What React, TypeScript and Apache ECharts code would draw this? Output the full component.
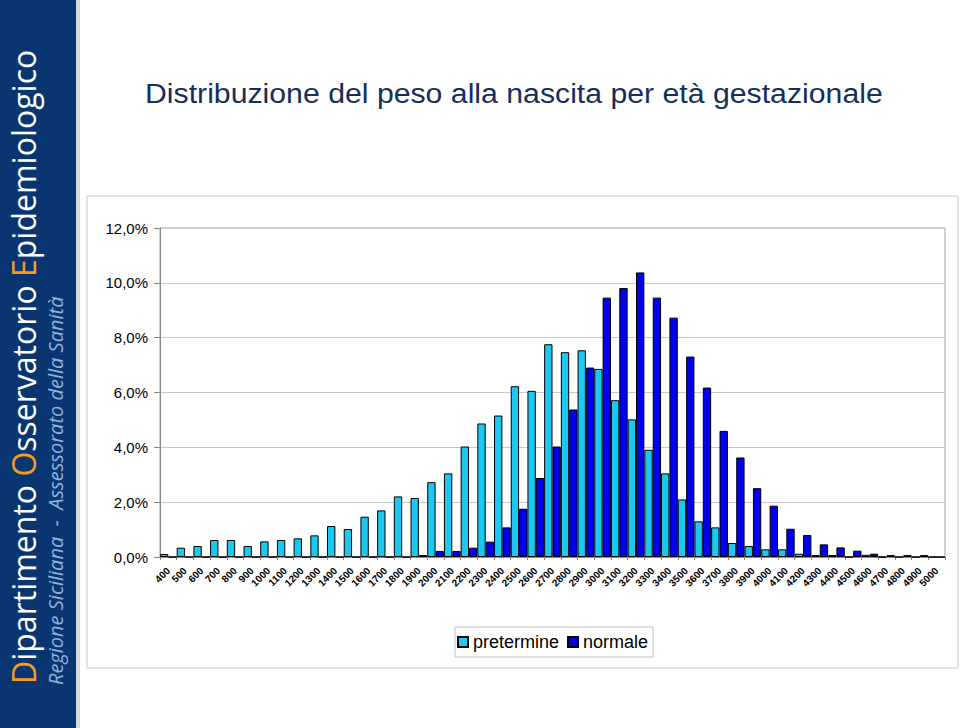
import React, { useEffect, useRef } from "react";
import * as echarts from "echarts";

const categories: string[] = [
  "400","500","600","700","800","900","1000","1100","1200","1300","1400","1500",
  "1600","1700","1800","1900","2000","2100","2200","2300","2400","2500","2600","2700",
  "2800","2900","3000","3100","3200","3300","3400","3500","3600","3700","3800","3900",
  "4000","4100","4200","4300","4400","4500","4600","4700","4800","4900","5000",
];

const pretermine: number[] = [
  0.11, 0.34, 0.40, 0.62, 0.62, 0.40, 0.57, 0.62, 0.68, 0.79, 1.13, 1.02,
  1.47, 1.70, 2.21, 2.15, 2.73, 3.05, 4.03, 4.87, 5.16, 6.23, 6.06, 7.76,
  7.47, 7.54, 6.86, 5.72, 5.02, 3.91, 3.05, 2.10, 1.30, 1.08, 0.51, 0.40,
  0.28, 0.28, 0.12, 0.07, 0.07, 0, 0.08, 0, 0, 0, 0,
];

const normale: number[] = [
  0, 0, 0, 0, 0, 0, 0, 0, 0, 0, 0, 0,
  0, 0, 0, 0.07, 0.22, 0.22, 0.34, 0.56, 1.08, 1.76, 2.88, 4.03,
  5.38, 6.91, 9.46, 9.81, 10.38, 9.46, 8.73, 7.31, 6.18, 4.60, 3.63, 2.51,
  1.87, 1.03, 0.80, 0.46, 0.35, 0.23, 0.12, 0.07, 0.07, 0.07, 0,
];

const yTicks: number[] = [0, 2, 4, 6, 8, 10, 12];

export default function App() {
  const ref = useRef<HTMLDivElement>(null);
  useEffect(() => {
    if (!ref.current) return;
    const chart = echarts.init(ref.current, undefined, { renderer: "svg" });
    chart.setOption({
      animation: false,
      backgroundColor: "#ffffff",
      graphic: [
        {
          type: "rect",
          shape: { x: 0, y: 0, width: 76, height: 728 },
          style: { fill: "#093671" },
          z: 10,
        },
        {
          type: "rect",
          shape: { x: 76, y: 0, width: 4, height: 728 },
          style: { fill: "#d9d9d9" },
          z: 10,
        },
        {
          type: "text",
          x: 23,
          y: 684,
          rotation: Math.PI / 2,
          z: 11,
          style: {
            text: "{o|D}ipartimento {o|O}sservatorio {o|E}pidemiologico",
            fill: "#ffffff",
            fontFamily: "Open Sans, Liberation Sans, sans-serif",
            fontSize: 32,
            verticalAlign: "middle",
            align: "left",
            rich: {
              o: {
                fill: "#f59a23",
                fontFamily: "Open Sans, Liberation Sans, sans-serif",
                fontSize: 32,
              },
            },
          },
        },
        {
          type: "text",
          x: 55,
          y: 685,
          rotation: Math.PI / 2,
          z: 11,
          style: {
            text: "Regione Siciliana  -  Assessorato della Sanità",
            fill: "#8fb2dd",
            fontFamily: "Open Sans, Liberation Sans, sans-serif",
            fontStyle: "italic",
            fontSize: 20,
            verticalAlign: "middle",
            align: "left",
          },
        },
        {
          type: "rect",
          shape: { x: 87, y: 196, width: 871, height: 472 },
          style: { fill: "none", stroke: "#c8c8c8", lineWidth: 1 },
          z: 0,
        },
        {
          type: "text",
          x: 145,
          y: 80,
          scaleX: 1.12,
          z: 5,
          style: {
            text: "Distribuzione del peso alla nascita per età gestazionale",
            fill: "#152f5a",
            fontFamily: "Liberation Sans, Arial, sans-serif",
            fontSize: 27,
            verticalAlign: "top",
            align: "left",
          },
        },
      ],
      legend: {
        left: 455,
        top: 627,
        itemWidth: 10,
        itemHeight: 10,
        itemGap: 8,
        padding: [6, 5, 6, 2],
        backgroundColor: "#ffffff",
        borderColor: "#bfbfbf",
        borderWidth: 1,
        borderRadius: 0,
        icon: "rect",
        textStyle: {
          fontFamily: "Liberation Sans, Arial, sans-serif",
          fontSize: 18,
          color: "#000",
        },
        data: ["pretermine", "normale"],
      },
      grid: {
        left: 160,
        right: 15,
        top: 228,
        bottom: 171,
        show: true,
        borderColor: "#a0a0a0",
        borderWidth: 1,
      },
      xAxis: {
        type: "category",
        data: categories,
        axisLine: { lineStyle: { color: "#888888" } },
        axisTick: { show: true, length: 3, lineStyle: { color: "#888888" } },
        axisLabel: {
          rotate: 45,
          interval: 0,
          fontSize: 10,
          fontWeight: "bold",
          fontFamily: "Liberation Sans, Arial, sans-serif",
          color: "#000",
          margin: 12,
        },
      },
      yAxis: {
        type: "value",
        min: yTicks[0],
        max: yTicks[yTicks.length - 1],
        interval: 2,
        axisLine: { show: true, lineStyle: { color: "#888888" } },
        axisTick: { show: true, length: 6, lineStyle: { color: "#888888" } },
        splitLine: { lineStyle: { color: "#c8c8c8" } },
        axisLabel: {
          formatter: (v: number) => v.toFixed(1).replace(".", ",") + "%",
          fontSize: 15,
          fontFamily: "Liberation Sans, Arial, sans-serif",
          color: "#000",
          margin: 12,
        },
      },
      series: [
        {
          name: "pretermine",
          type: "bar",
          data: pretermine,
          barGap: "0%",
          barCategoryGap: "0%",
          itemStyle: { color: "#1cc8f2", borderColor: "#000", borderWidth: 1 },
        },
        {
          name: "normale",
          type: "bar",
          data: normale,
          barGap: "0%",
          barCategoryGap: "0%",
          itemStyle: { color: "#0000ee", borderColor: "#000", borderWidth: 1 },
        },
      ],
    });
    return () => chart.dispose();
  }, []);
  return (
    <div
      ref={ref}
      style={{ position: "fixed", left: 0, top: 0, width: 960, height: 728 }}
    />
  );
}
